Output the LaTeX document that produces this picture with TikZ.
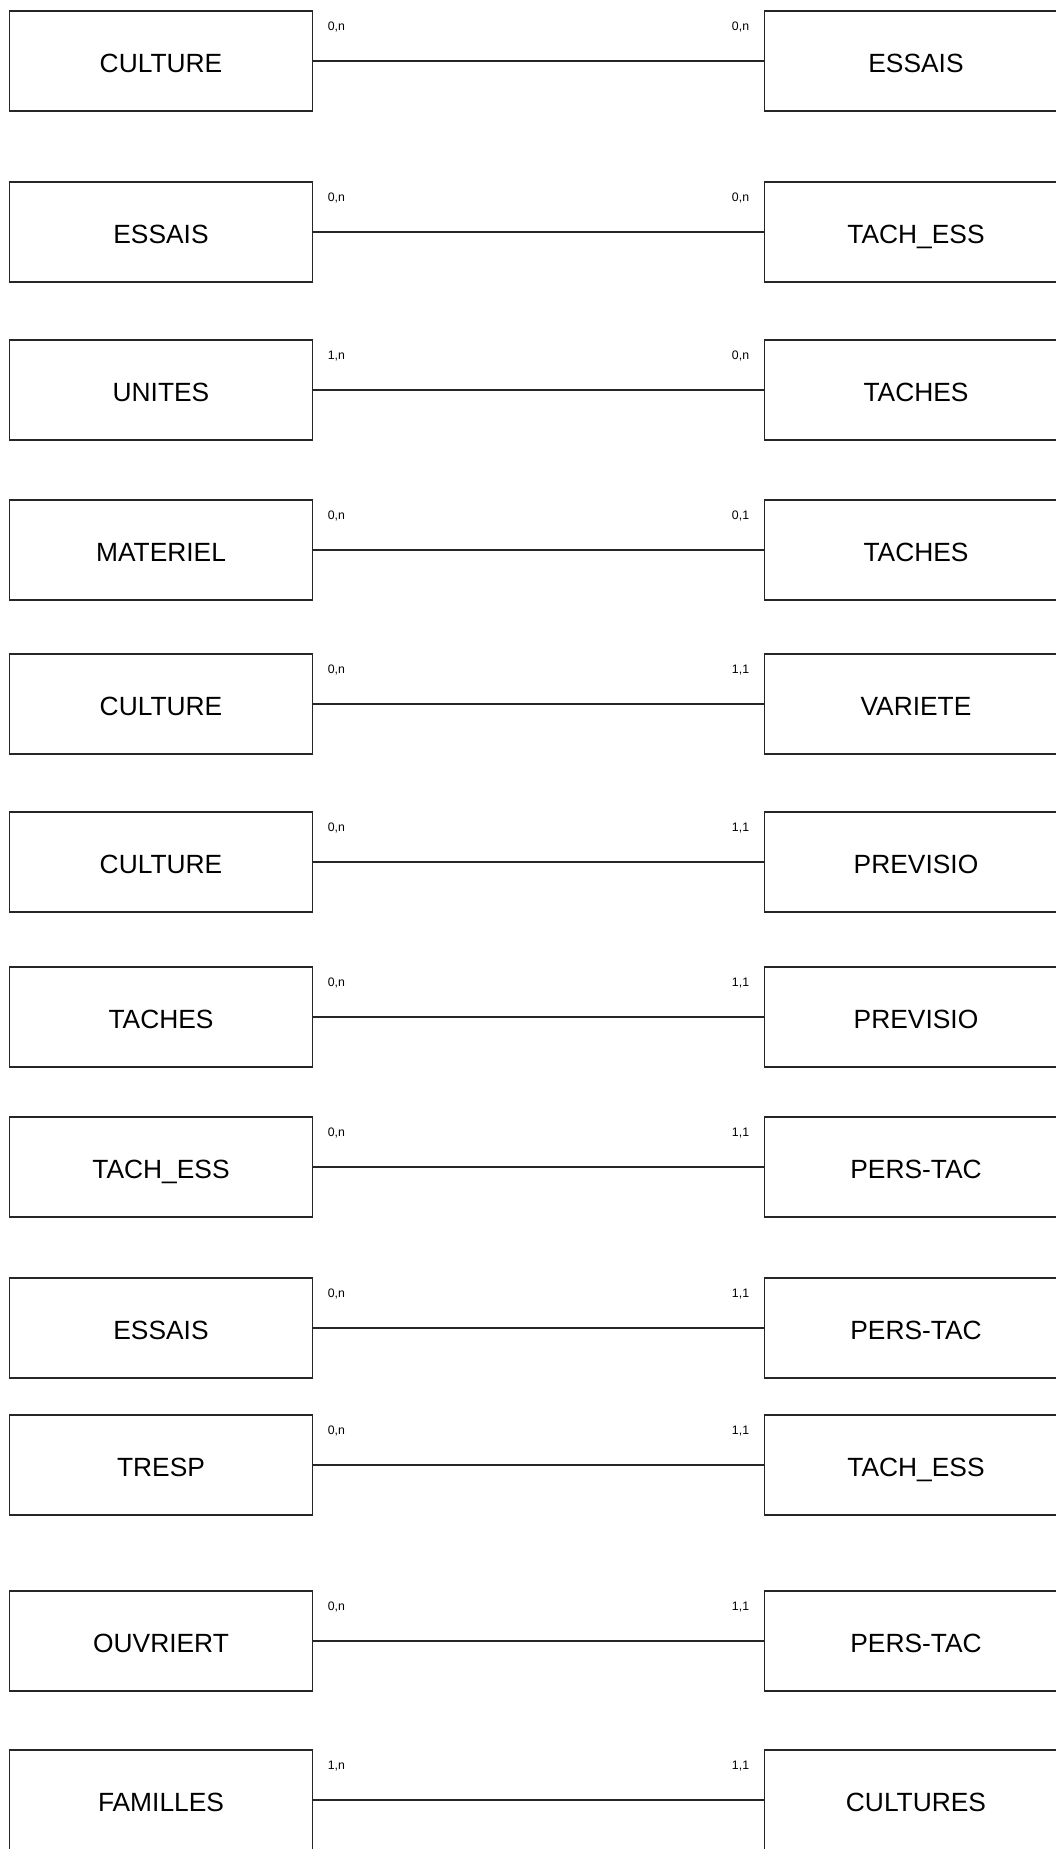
\documentclass[tikz,border=0pt]{standalone}
\usepackage{fontspec}
\setmainfont{Liberation Sans}
\usetikzlibrary{positioning}

\begin{document}
\begin{tikzpicture}[
    entity/.style={rectangle, draw=black!85, line width=0.4pt, minimum width=3.03cm, minimum height=1.0cm, text height=1.6ex, text depth=0.4ex, font=\fontsize{7.5}{9}\selectfont},
    card/.style={inner sep=0pt, font=\fontsize{3.5}{4}\selectfont},
    link/.style={draw=black!85, line width=0.4pt}
]
\useasboundingbox (0,0) rectangle (10.56,-18.49);

% Left entities
\node[entity] (culture1) at (1.61,-0.61) {CULTURE};
\node[entity] (essais1) at (1.61,-2.32) {ESSAIS};
\node[entity] (unites) at (1.61,-3.90) {UNITES};
\node[entity] (materiel) at (1.61,-5.50) {MATERIEL};
\node[entity] (culture2) at (1.61,-7.04) {CULTURE};
\node[entity] (culture3) at (1.61,-8.62) {CULTURE};
\node[entity] (taches1) at (1.61,-10.17) {TACHES};
\node[entity] (tachess1) at (1.61,-11.67) {TACH\_ESS};
\node[entity] (essais2) at (1.61,-13.28) {ESSAIS};
\node[entity] (tresp) at (1.61,-14.65) {TRESP};
\node[entity] (ouvriert) at (1.61,-16.41) {OUVRIERT};
\node[entity] (familles) at (1.61,-18.00) {FAMILLES};

% Right entities
\node[entity] (essais3) at (9.16,-0.61) {ESSAIS};
\node[entity] (tachess2) at (9.16,-2.32) {TACH\_ESS};
\node[entity] (taches2) at (9.16,-3.90) {TACHES};
\node[entity] (taches3) at (9.16,-5.50) {TACHES};
\node[entity] (variete) at (9.16,-7.04) {VARIETE};
\node[entity] (previsio1) at (9.16,-8.62) {PREVISIO};
\node[entity] (previsio2) at (9.16,-10.17) {PREVISIO};
\node[entity] (perstac1) at (9.16,-11.67) {PERS-TAC};
\node[entity] (perstac2) at (9.16,-13.28) {PERS-TAC};
\node[entity] (tachess3) at (9.16,-14.65) {TACH\_ESS};
\node[entity] (perstac3) at (9.16,-16.41) {PERS-TAC};
\node[entity] (cultures) at (9.16,-18.00) {CULTURES};

% Links
\draw[link] (culture1) -- (essais3);
\draw[link] (essais1) -- (tachess2);
\draw[link] (unites) -- (taches2);
\draw[link] (materiel) -- (taches3);
\draw[link] (culture2) -- (variete);
\draw[link] (culture3) -- (previsio1);
\draw[link] (taches1) -- (previsio2);
\draw[link] (tachess1) -- (perstac1);
\draw[link] (essais2) -- (perstac2);
\draw[link] (tresp) -- (tachess3);
\draw[link] (ouvriert) -- (perstac3);
\draw[link] (familles) -- (cultures);

% Cardinalities
\node[card, above right=0.28cm and 0.14cm of culture1.east] (c1l) {0,n};
\node[card, above left=0.28cm and 0.14cm of essais3.west] (c1r) {0,n};
\node[card, above right=0.28cm and 0.14cm of essais1.east] (c2l) {0,n};
\node[card, above left=0.28cm and 0.14cm of tachess2.west] (c2r) {0,n};
\node[card, above right=0.28cm and 0.14cm of unites.east] (c3l) {1,n};
\node[card, above left=0.28cm and 0.14cm of taches2.west] (c3r) {0,n};
\node[card, above right=0.28cm and 0.14cm of materiel.east] (c4l) {0,n};
\node[card, above left=0.28cm and 0.14cm of taches3.west] (c4r) {0,1};
\node[card, above right=0.28cm and 0.14cm of culture2.east] (c5l) {0,n};
\node[card, above left=0.28cm and 0.14cm of variete.west] (c5r) {1,1};
\node[card, above right=0.28cm and 0.14cm of culture3.east] (c6l) {0,n};
\node[card, above left=0.28cm and 0.14cm of previsio1.west] (c6r) {1,1};
\node[card, above right=0.28cm and 0.14cm of taches1.east] (c7l) {0,n};
\node[card, above left=0.28cm and 0.14cm of previsio2.west] (c7r) {1,1};
\node[card, above right=0.28cm and 0.14cm of tachess1.east] (c8l) {0,n};
\node[card, above left=0.28cm and 0.14cm of perstac1.west] (c8r) {1,1};
\node[card, above right=0.28cm and 0.14cm of essais2.east] (c9l) {0,n};
\node[card, above left=0.28cm and 0.14cm of perstac2.west] (c9r) {1,1};
\node[card, above right=0.28cm and 0.14cm of tresp.east] (c10l) {0,n};
\node[card, above left=0.28cm and 0.14cm of tachess3.west] (c10r) {1,1};
\node[card, above right=0.28cm and 0.14cm of ouvriert.east] (c11l) {0,n};
\node[card, above left=0.28cm and 0.14cm of perstac3.west] (c11r) {1,1};
\node[card, above right=0.28cm and 0.14cm of familles.east] (c12l) {1,n};
\node[card, above left=0.28cm and 0.14cm of cultures.west] (c12r) {1,1};

\end{tikzpicture}
\end{document}
